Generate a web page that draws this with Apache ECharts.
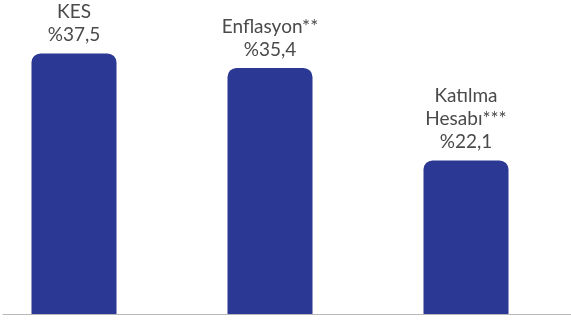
<!DOCTYPE html>
<html>
<head>
<meta charset="utf-8">
<script src="https://cdn.jsdelivr.net/npm/echarts@6/dist/echarts.min.js"></script>
<style>html,body{margin:0;padding:0;background:#fff}#c{width:571px;height:321px}</style>
</head>
<body>
<div id="c"></div>
<script>
const categories = ['KES', 'Enflasyon**', 'Katılma\nHesabı***'];
const values = [37.5, 35.4, 22.1];

const chart = echarts.init(document.getElementById('c'));
chart.setOption({
  animation: false,
  grid: [
    { left: -24, width: 588, top: 36, bottom: 7, outerBoundsMode: 'none', containLabel: false },
    { left: 3, right: 0, top: 36, bottom: 7, outerBoundsMode: 'none' }
  ],
  xAxis: [
    { type: 'category', gridIndex: 0, data: categories, axisLine: { show: false }, axisTick: { show: false }, axisLabel: { show: false } },
    { type: 'value', gridIndex: 1, min: 0, max: 1, axisLine: { show: true, lineStyle: { color: '#b8b8b8', width: 1 } }, axisTick: { show: false }, axisLabel: { show: false }, splitLine: { show: false } }
  ],
  yAxis: [
    { type: 'value', gridIndex: 0, min: 0, max: 40, show: false },
    { type: 'value', gridIndex: 1, min: 0, max: 1, show: false }
  ],
  series: [{
    type: 'bar',
    xAxisIndex: 0,
    yAxisIndex: 0,
    data: values,
    barWidth: 85,
    itemStyle: { color: '#2b3894', borderRadius: [9, 9, 0, 0] },
    label: {
      show: true,
      position: 'top',
      distance: 7,
      color: '#4a4a4a',
      fontFamily: 'Lato',
      fontSize: 19,
      lineHeight: 23,
      align: 'center',
      formatter: p => p.name + '\n%' + p.value.toFixed(1).replace('.', ',')
    }
  }]
});
</script>
</body>
</html>
